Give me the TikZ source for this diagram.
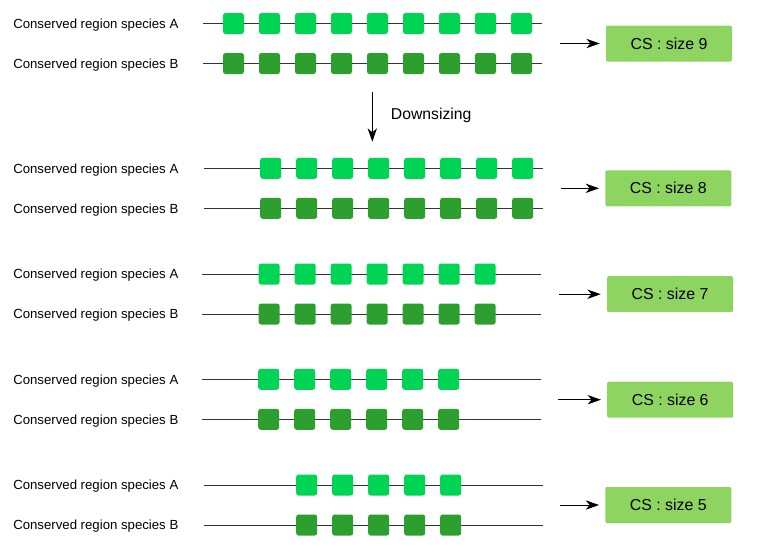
\documentclass[tikz,border=0pt]{standalone}
\usepackage{fontspec}
\setmainfont{Liberation Sans}
\usepackage{tikz}
\usetikzlibrary{positioning, arrows.meta, calc}
\definecolor{seqA}{RGB}{0,212,85}
\definecolor{seqB}{RGB}{44,159,46}
\definecolor{csgreen}{RGB}{141,212,96}

\begin{document}
\begin{tikzpicture}[x=0.75pt, y=-0.75pt]
    \tikzstyle{rowtext}=[anchor=base west, inner sep=0pt, font=\fontsize{9.9}{12}\selectfont]
    \tikzstyle{blockA}=[rectangle, rounded corners=1.9pt, fill=seqA, minimum size=15.75pt, inner sep=0pt]
    \tikzstyle{blockB}=[blockA, fill=seqB]
    \tikzstyle{csbox}=[rectangle, rounded corners=1pt, fill=csgreen, minimum width=94.5pt, minimum height=27pt, inner sep=0pt, font=\fontsize{11.9}{14}\selectfont]
    \tikzstyle{strand}=[line width=0.75pt, draw=black!80]
    \tikzstyle{arrow}=[-{Stealth[length=10pt,width=7pt,inset=3pt]}, line width=0.75pt]

    \useasboundingbox (0,0) rectangle (766,554);

    % Groups: size / row A y / row B y / first block x / strand start / strand end / box x / box y / arrow start
    \foreach \g/\ya/\yb/\xf/\ls/\le/\bx/\by/\as in {
        9/23.5/63.5/233.5/203/541.7/669/43.5/560,
        8/168.3/208.3/270.7/204/542.7/668.3/188.3/560.7,
        7/274/314/269.2/202/541.3/670/294.2/559,
        6/379.3/419.3/268.7/202/541/670.2/399.7/558.3,
        5/485/525/306.7/203.7/542.7/668.3/505/560.3}{
        % Strands
        \coordinate (sa\g) at (\ls,\ya);
        \coordinate (ea\g) at (\le,\ya);
        \coordinate (sb\g) at (\ls,\yb);
        \coordinate (eb\g) at (\le,\yb);
        \draw[strand] (sa\g) -- (ea\g);
        \draw[strand] (sb\g) -- (eb\g);

        % Conserved blocks
        \foreach \k in {1,...,\g}{
            \node[blockA] (a\g-\k) at ({\xf+36*(\k-1)},\ya) {};
            \node[blockB] (b\g-\k) at ({\xf+36*(\k-1)},\yb) {};
        }

        % Row labels
        \node[rowtext] (ta\g) at (13,\ya+4.7) {Conserved region species A};
        \node[rowtext] (tb\g) at (13,\yb+4.7) {Conserved region species B};

        % Result box and arrow
        \node[csbox] (cs\g) at (\bx,\by) {CS : size \g};
        \coordinate (from\g) at (\as,\by);
        \draw[arrow, shorten >=4.5pt] (from\g) -- (cs\g.west);
    }

    % Downsizing arrow
    \coordinate (dtop) at (372.3,92.3);
    \coordinate (dbot) at (372.3,141.7);
    \draw[arrow] (dtop) -- (dbot);
    \node[anchor=base west, inner sep=0pt, font=\fontsize{11.8}{14}\selectfont] (down) at (390.7,119.3) {Downsizing};
\end{tikzpicture}
\end{document}
